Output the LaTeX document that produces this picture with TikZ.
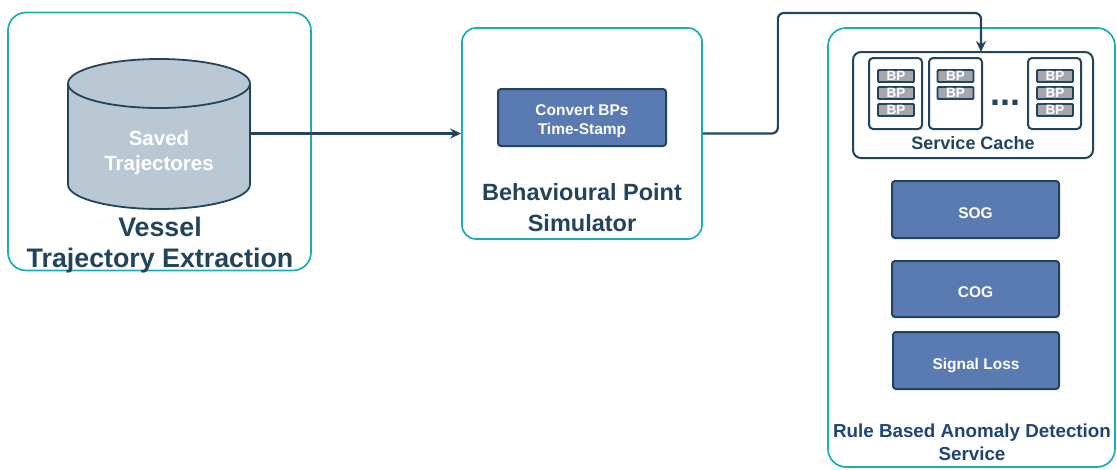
\documentclass[tikz,border=0pt]{standalone}
\usepackage{fontspec}
\setmainfont{Liberation Sans}
\usetikzlibrary{arrows.meta}
\definecolor{teal}{HTML}{1BADB6}
\definecolor{dark}{HTML}{23445D}
\definecolor{bluef}{HTML}{5A7BB1}
\definecolor{bpgray}{HTML}{A5A6AE}
\definecolor{cylf}{HTML}{BAC8D3}
\definecolor{navy}{HTML}{1F4577}
\newcommand{\fs}[2]{\fontsize{#1pt}{#2pt}\selectfont\bfseries}
\tikzset{
  group/.style={draw=teal, line width=1.7pt, rounded corners=18pt, fill=white, inner sep=0pt},
  proc/.style={draw=dark, fill=bluef, line width=2pt, rounded corners=3pt, text=white, inner sep=0pt, align=center, font=\fs{15.5}{19}},
  onel/.style={text height=17pt, text depth=0pt},
  col/.style={draw=dark, line width=2pt, rounded corners=4pt, fill=white, inner sep=0pt, minimum width=53pt, minimum height=71pt},
  bp/.style={draw=dark, fill=bpgray, line width=1.8pt, rounded corners=1pt, minimum width=36pt, minimum height=12pt, inner sep=0pt, text=white, font=\fs{13.5}{14}},
  label/.style={text=dark, align=center, inner sep=0pt},
  conn/.style={draw=dark, line width=2.2pt, -{Stealth[length=11pt,width=10pt]}, rounded corners=6pt}
}
\begin{document}
\begin{tikzpicture}[x=1pt,y=-1pt]
\useasboundingbox (0,0) rectangle (1117,469);
% left group
\node[group, minimum width=303pt, minimum height=258pt] (ve) at (159.5,141.5) {};
\node[minimum width=182pt, minimum height=150pt, inner sep=0pt] (cyl) at (159,133.5) {};
\filldraw[fill=cylf, draw=dark, line width=1.8pt]
  (68,83.5) -- (68,184.5) arc[start angle=180, end angle=360, x radius=91pt, y radius=24.5pt]
  -- (250,83.5) arc[start angle=0, end angle=180, x radius=91pt, y radius=24.5pt] -- cycle;
\draw[dark, line width=1.8pt] (68,83.5) arc[start angle=180, end angle=360, x radius=91pt, y radius=24.5pt];
\node[text=white, align=center, inner sep=0pt, font=\fs{20.5}{25}] (cyltxt) at (159,152.5) {Saved\\Trajectores};
\node[label, font=\fs{26.8}{31}] (vetxt) at (160,245) {Vessel\\Trajectory Extraction};
% middle group
\node[group, rounded corners=14pt, minimum width=240pt, minimum height=211pt] (sim) at (582,133.5) {};
\node[proc, minimum width=168pt, minimum height=57pt] (cv) at (582,117.5) {};
\node[text=white, align=center, inner sep=0pt, font=\fs{15.5}{19}] (cvtxt) at (582,121.5) {Convert BPs\\Time-Stamp};
\node[label, font=\fs{23.5}{31}] (simtxt) at (582,208) {Behavioural Point\\Simulator};
% right group
\node[group, minimum width=287pt, minimum height=439pt] (rb) at (971.5,247.5) {};
\node[draw=dark, line width=2pt, rounded corners=8pt, fill=white, minimum width=240pt, minimum height=106pt, inner sep=0pt] (sc) at (973,105) {};
\node[col] (c1) at (895.5,93.5) {};
\node[col] (c2) at (955.5,93.5) {};
\node[col] (c3) at (1054.5,93.5) {};
\node[bp] (b11) at (896,76) {BP};
\node[bp] (b12) at (896,93) {BP};
\node[bp] (b13) at (896,110) {BP};
\node[bp] (b21) at (955.5,76) {BP};
\node[bp] (b22) at (955.5,93) {BP};
\node[bp] (b31) at (1055,76) {BP};
\node[bp] (b32) at (1055,93) {BP};
\node[bp] (b33) at (1055,110) {BP};
\node[text=dark, inner sep=0pt, anchor=base, font=\fs{36}{40}] (dots) at (1005,105.5) {...};
\node[label, font=\fs{18}{22}] (sctxt) at (973,143.5) {Service Cache};
\node[proc, onel, minimum width=167pt, minimum height=57pt] (sog) at (975.5,209.5) {SOG};
\node[proc, onel, minimum width=167pt, minimum height=56pt] (cog) at (975.5,289) {COG};
\node[proc, onel, minimum width=166pt, minimum height=57pt] (sl) at (976,360.5) {Signal Loss};
\node[text=navy, align=center, inner sep=0pt, font=\fs{18.8}{23}] (rbtxt) at (972,442) {Rule Based Anomaly Detection\\Service};
% connectors
\coordinate (cin) at (981,52);
\draw[conn, rounded corners=0pt] (cyl.east) -- (sim.west |- cyl.east);
\draw[conn] (sim.east) -- ++(75,0) |- (981,13) -- (cin);
\end{tikzpicture}
\end{document}
